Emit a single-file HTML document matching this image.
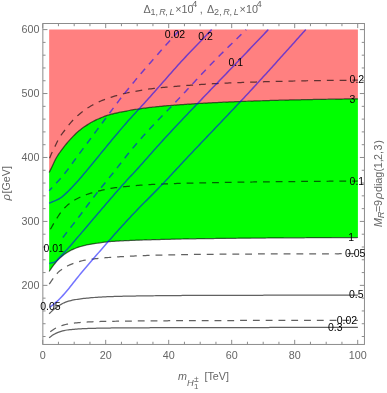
<!DOCTYPE html>
<html><head><meta charset="utf-8"><style>
html,body{margin:0;padding:0;background:#fff;}
svg{display:block;font-family:"Liberation Sans",sans-serif;will-change:transform;}
</style></head><body>
<svg width="387" height="393" viewBox="0 0 387 393">
<path d="M49.15,29.60 L357.90,29.60 L357.90,98.80 L356.43,98.82 L354.96,98.84 L353.49,98.86 L352.03,98.88 L350.56,98.90 L349.09,98.92 L347.62,98.94 L346.15,98.96 L344.68,98.98 L343.22,99.00 L341.75,99.02 L340.28,99.04 L338.81,99.06 L337.34,99.09 L335.87,99.11 L334.41,99.13 L332.94,99.15 L331.47,99.18 L330.00,99.20 L328.51,99.23 L327.02,99.25 L325.53,99.28 L324.04,99.30 L322.55,99.33 L321.06,99.35 L319.57,99.38 L318.08,99.41 L316.59,99.44 L315.11,99.46 L313.62,99.49 L312.13,99.52 L310.64,99.55 L309.15,99.58 L307.66,99.61 L306.17,99.64 L304.68,99.67 L303.19,99.70 L301.70,99.73 L300.21,99.76 L298.72,99.79 L297.23,99.82 L295.74,99.86 L294.25,99.89 L292.76,99.92 L291.27,99.96 L289.78,99.99 L288.29,100.02 L286.81,100.06 L285.32,100.10 L283.83,100.13 L282.34,100.17 L280.85,100.21 L279.36,100.24 L277.87,100.28 L276.38,100.32 L274.89,100.36 L273.40,100.40 L271.92,100.44 L270.45,100.48 L268.97,100.52 L267.49,100.57 L266.01,100.61 L264.54,100.65 L263.06,100.70 L261.58,100.75 L260.11,100.79 L258.63,100.84 L257.15,100.89 L255.67,100.94 L254.20,100.99 L252.72,101.04 L251.24,101.09 L249.77,101.15 L248.29,101.20 L246.81,101.25 L245.33,101.31 L243.86,101.37 L242.38,101.42 L240.90,101.48 L239.43,101.54 L237.95,101.60 L236.47,101.66 L234.99,101.72 L233.52,101.78 L232.04,101.84 L230.56,101.91 L229.09,101.97 L227.61,102.03 L226.13,102.10 L224.65,102.17 L223.18,102.23 L221.70,102.30 L220.22,102.37 L218.75,102.44 L217.27,102.51 L215.79,102.58 L214.31,102.66 L212.84,102.73 L211.36,102.81 L209.88,102.88 L208.41,102.96 L206.93,103.04 L205.45,103.12 L203.97,103.20 L202.50,103.29 L201.02,103.37 L199.54,103.46 L198.07,103.55 L196.59,103.64 L195.11,103.73 L193.63,103.82 L192.16,103.91 L190.68,104.01 L189.20,104.10 L187.73,104.20 L186.25,104.30 L184.77,104.40 L183.29,104.51 L181.82,104.61 L180.34,104.72 L178.86,104.82 L177.39,104.93 L175.91,105.04 L174.43,105.15 L172.95,105.27 L171.48,105.38 L170.00,105.50 L168.56,105.62 L167.11,105.74 L165.67,105.86 L164.22,105.99 L162.78,106.12 L161.33,106.26 L159.89,106.40 L158.44,106.54 L157.00,106.69 L155.56,106.84 L154.11,107.00 L152.67,107.16 L151.22,107.32 L149.78,107.49 L148.33,107.66 L146.89,107.84 L145.44,108.02 L144.00,108.20 L142.54,108.39 L141.08,108.59 L139.62,108.81 L138.15,109.02 L136.69,109.25 L135.23,109.49 L133.77,109.73 L132.31,109.98 L130.85,110.23 L129.38,110.49 L127.92,110.76 L126.46,111.03 L125.00,111.30 L123.50,111.58 L122.00,111.87 L120.50,112.17 L119.00,112.47 L117.50,112.78 L116.00,113.11 L114.50,113.45 L113.00,113.81 L111.50,114.20 L110.00,114.60 L108.60,115.01 L107.20,115.46 L105.80,115.94 L104.40,116.45 L103.00,116.98 L101.60,117.54 L100.20,118.11 L98.80,118.70 L97.44,119.29 L96.08,119.92 L94.72,120.58 L93.36,121.27 L92.00,122.00 L90.54,122.83 L89.08,123.71 L87.62,124.64 L86.16,125.61 L84.70,126.60 L83.28,127.59 L81.86,128.61 L80.44,129.68 L79.02,130.81 L77.60,132.00 L76.18,133.29 L74.76,134.69 L73.34,136.15 L71.92,137.67 L70.50,139.20 L69.15,140.68 L67.80,142.19 L66.45,143.77 L65.10,145.40 L63.77,147.08 L62.45,148.82 L61.12,150.63 L59.80,152.50 L58.60,154.22 L57.40,156.02 L56.20,158.00 L55.03,160.24 L53.87,162.71 L52.70,165.20 L51.52,167.66 L50.33,170.13 L49.15,172.60 Z" fill="#ff8080"/>
<path d="M49.15,172.60 L50.33,170.13 L51.52,167.66 L52.70,165.20 L53.87,162.71 L55.03,160.24 L56.20,158.00 L57.40,156.02 L58.60,154.22 L59.80,152.50 L61.12,150.63 L62.45,148.82 L63.77,147.08 L65.10,145.40 L66.45,143.77 L67.80,142.19 L69.15,140.68 L70.50,139.20 L71.92,137.67 L73.34,136.15 L74.76,134.69 L76.18,133.29 L77.60,132.00 L79.02,130.81 L80.44,129.68 L81.86,128.61 L83.28,127.59 L84.70,126.60 L86.16,125.61 L87.62,124.64 L89.08,123.71 L90.54,122.83 L92.00,122.00 L93.36,121.27 L94.72,120.58 L96.08,119.92 L97.44,119.29 L98.80,118.70 L100.20,118.11 L101.60,117.54 L103.00,116.98 L104.40,116.45 L105.80,115.94 L107.20,115.46 L108.60,115.01 L110.00,114.60 L111.50,114.20 L113.00,113.81 L114.50,113.45 L116.00,113.11 L117.50,112.78 L119.00,112.47 L120.50,112.17 L122.00,111.87 L123.50,111.58 L125.00,111.30 L126.46,111.03 L127.92,110.76 L129.38,110.49 L130.85,110.23 L132.31,109.98 L133.77,109.73 L135.23,109.49 L136.69,109.25 L138.15,109.02 L139.62,108.81 L141.08,108.59 L142.54,108.39 L144.00,108.20 L145.44,108.02 L146.89,107.84 L148.33,107.66 L149.78,107.49 L151.22,107.32 L152.67,107.16 L154.11,107.00 L155.56,106.84 L157.00,106.69 L158.44,106.54 L159.89,106.40 L161.33,106.26 L162.78,106.12 L164.22,105.99 L165.67,105.86 L167.11,105.74 L168.56,105.62 L170.00,105.50 L171.48,105.38 L172.95,105.27 L174.43,105.15 L175.91,105.04 L177.39,104.93 L178.86,104.82 L180.34,104.72 L181.82,104.61 L183.29,104.51 L184.77,104.40 L186.25,104.30 L187.73,104.20 L189.20,104.10 L190.68,104.01 L192.16,103.91 L193.63,103.82 L195.11,103.73 L196.59,103.64 L198.07,103.55 L199.54,103.46 L201.02,103.37 L202.50,103.29 L203.97,103.20 L205.45,103.12 L206.93,103.04 L208.41,102.96 L209.88,102.88 L211.36,102.81 L212.84,102.73 L214.31,102.66 L215.79,102.58 L217.27,102.51 L218.75,102.44 L220.22,102.37 L221.70,102.30 L223.18,102.23 L224.65,102.17 L226.13,102.10 L227.61,102.03 L229.09,101.97 L230.56,101.91 L232.04,101.84 L233.52,101.78 L234.99,101.72 L236.47,101.66 L237.95,101.60 L239.43,101.54 L240.90,101.48 L242.38,101.42 L243.86,101.37 L245.33,101.31 L246.81,101.25 L248.29,101.20 L249.77,101.15 L251.24,101.09 L252.72,101.04 L254.20,100.99 L255.67,100.94 L257.15,100.89 L258.63,100.84 L260.11,100.79 L261.58,100.75 L263.06,100.70 L264.54,100.65 L266.01,100.61 L267.49,100.57 L268.97,100.52 L270.45,100.48 L271.92,100.44 L273.40,100.40 L274.89,100.36 L276.38,100.32 L277.87,100.28 L279.36,100.24 L280.85,100.21 L282.34,100.17 L283.83,100.13 L285.32,100.10 L286.81,100.06 L288.29,100.02 L289.78,99.99 L291.27,99.96 L292.76,99.92 L294.25,99.89 L295.74,99.86 L297.23,99.82 L298.72,99.79 L300.21,99.76 L301.70,99.73 L303.19,99.70 L304.68,99.67 L306.17,99.64 L307.66,99.61 L309.15,99.58 L310.64,99.55 L312.13,99.52 L313.62,99.49 L315.11,99.46 L316.59,99.44 L318.08,99.41 L319.57,99.38 L321.06,99.35 L322.55,99.33 L324.04,99.30 L325.53,99.28 L327.02,99.25 L328.51,99.23 L330.00,99.20 L331.47,99.18 L332.94,99.15 L334.41,99.13 L335.87,99.11 L337.34,99.09 L338.81,99.06 L340.28,99.04 L341.75,99.02 L343.22,99.00 L344.68,98.98 L346.15,98.96 L347.62,98.94 L349.09,98.92 L350.56,98.90 L352.03,98.88 L353.49,98.86 L354.96,98.84 L356.43,98.82 L357.90,98.80 L357.90,237.50 L356.40,237.51 L354.90,237.52 L353.41,237.52 L351.91,237.53 L350.41,237.54 L348.91,237.54 L347.41,237.55 L345.92,237.56 L344.42,237.57 L342.92,237.57 L341.42,237.58 L339.92,237.59 L338.42,237.59 L336.93,237.60 L335.43,237.61 L333.93,237.61 L332.43,237.62 L330.93,237.63 L329.44,237.64 L327.94,237.64 L326.44,237.65 L324.94,237.66 L323.44,237.66 L321.95,237.67 L320.45,237.68 L318.95,237.68 L317.45,237.69 L315.95,237.70 L314.46,237.71 L312.96,237.71 L311.46,237.72 L309.96,237.73 L308.46,237.74 L306.97,237.74 L305.47,237.75 L303.97,237.76 L302.47,237.77 L300.97,237.77 L299.48,237.78 L297.98,237.79 L296.48,237.80 L294.98,237.81 L293.48,237.82 L291.98,237.82 L290.49,237.83 L288.99,237.84 L287.49,237.85 L285.99,237.86 L284.49,237.87 L283.00,237.88 L281.50,237.89 L280.00,237.90 L278.52,237.91 L277.04,237.92 L275.56,237.93 L274.07,237.94 L272.59,237.95 L271.11,237.96 L269.63,237.97 L268.15,237.98 L266.67,238.00 L265.19,238.01 L263.70,238.02 L262.22,238.03 L260.74,238.04 L259.26,238.05 L257.78,238.07 L256.30,238.08 L254.81,238.09 L253.33,238.10 L251.85,238.12 L250.37,238.13 L248.89,238.14 L247.41,238.16 L245.93,238.17 L244.44,238.18 L242.96,238.20 L241.48,238.21 L240.00,238.23 L238.52,238.24 L237.04,238.25 L235.56,238.27 L234.07,238.28 L232.59,238.30 L231.11,238.32 L229.63,238.33 L228.15,238.35 L226.67,238.36 L225.19,238.38 L223.70,238.40 L222.22,238.41 L220.74,238.43 L219.26,238.45 L217.78,238.47 L216.30,238.48 L214.81,238.50 L213.33,238.52 L211.85,238.54 L210.37,238.56 L208.89,238.58 L207.41,238.60 L205.93,238.62 L204.44,238.64 L202.96,238.66 L201.48,238.68 L200.00,238.70 L198.51,238.72 L197.02,238.74 L195.52,238.77 L194.03,238.79 L192.54,238.81 L191.05,238.84 L189.56,238.86 L188.06,238.89 L186.57,238.92 L185.08,238.95 L183.59,238.97 L182.09,239.00 L180.60,239.03 L179.11,239.06 L177.62,239.09 L176.13,239.12 L174.63,239.16 L173.14,239.19 L171.65,239.22 L170.16,239.26 L168.67,239.29 L167.17,239.33 L165.68,239.37 L164.19,239.40 L162.70,239.44 L161.21,239.48 L159.71,239.52 L158.22,239.56 L156.73,239.60 L155.24,239.64 L153.74,239.68 L152.25,239.73 L150.76,239.77 L149.27,239.81 L147.78,239.86 L146.28,239.91 L144.79,239.95 L143.30,240.00 L141.85,240.05 L140.40,240.09 L138.96,240.14 L137.51,240.19 L136.06,240.24 L134.61,240.30 L133.17,240.35 L131.72,240.41 L130.27,240.47 L128.82,240.53 L127.37,240.59 L125.93,240.66 L124.48,240.72 L123.03,240.80 L121.58,240.87 L120.13,240.95 L118.69,241.03 L117.24,241.11 L115.79,241.20 L114.34,241.30 L112.90,241.39 L111.45,241.49 L110.00,241.60 L108.56,241.72 L107.13,241.86 L105.69,242.02 L104.25,242.20 L102.82,242.39 L101.38,242.60 L99.95,242.81 L98.51,243.03 L97.07,243.25 L95.64,243.48 L94.20,243.70 L92.70,243.93 L91.20,244.17 L89.70,244.42 L88.20,244.69 L86.70,244.98 L85.20,245.30 L83.70,245.65 L82.20,246.05 L80.70,246.48 L79.20,246.95 L77.70,247.46 L76.20,248.00 L74.90,248.51 L73.60,249.06 L72.30,249.66 L71.00,250.30 L69.70,250.99 L68.40,251.72 L67.10,252.50 L65.60,253.47 L64.10,254.55 L62.60,255.73 L61.10,257.00 L59.60,258.36 L58.10,259.80 L56.60,261.43 L55.10,263.26 L53.60,265.20 L52.12,267.22 L50.63,269.36 L49.15,271.50 Z" fill="#00ff00"/>
<path d="M49.15,172.60 L50.33,170.13 L51.52,167.66 L52.70,165.20 L53.87,162.71 L55.03,160.24 L56.20,158.00 L57.40,156.02 L58.60,154.22 L59.80,152.50 L61.12,150.63 L62.45,148.82 L63.77,147.08 L65.10,145.40 L66.45,143.77 L67.80,142.19 L69.15,140.68 L70.50,139.20 L71.92,137.67 L73.34,136.15 L74.76,134.69 L76.18,133.29 L77.60,132.00 L79.02,130.81 L80.44,129.68 L81.86,128.61 L83.28,127.59 L84.70,126.60 L86.16,125.61 L87.62,124.64 L89.08,123.71 L90.54,122.83 L92.00,122.00 L93.36,121.27 L94.72,120.58 L96.08,119.92 L97.44,119.29 L98.80,118.70 L100.20,118.11 L101.60,117.54 L103.00,116.98 L104.40,116.45 L105.80,115.94 L107.20,115.46 L108.60,115.01 L110.00,114.60 L111.50,114.20 L113.00,113.81 L114.50,113.45 L116.00,113.11 L117.50,112.78 L119.00,112.47 L120.50,112.17 L122.00,111.87 L123.50,111.58 L125.00,111.30 L126.46,111.03 L127.92,110.76 L129.38,110.49 L130.85,110.23 L132.31,109.98 L133.77,109.73 L135.23,109.49 L136.69,109.25 L138.15,109.02 L139.62,108.81 L141.08,108.59 L142.54,108.39 L144.00,108.20 L145.44,108.02 L146.89,107.84 L148.33,107.66 L149.78,107.49 L151.22,107.32 L152.67,107.16 L154.11,107.00 L155.56,106.84 L157.00,106.69 L158.44,106.54 L159.89,106.40 L161.33,106.26 L162.78,106.12 L164.22,105.99 L165.67,105.86 L167.11,105.74 L168.56,105.62 L170.00,105.50 L171.48,105.38 L172.95,105.27 L174.43,105.15 L175.91,105.04 L177.39,104.93 L178.86,104.82 L180.34,104.72 L181.82,104.61 L183.29,104.51 L184.77,104.40 L186.25,104.30 L187.73,104.20 L189.20,104.10 L190.68,104.01 L192.16,103.91 L193.63,103.82 L195.11,103.73 L196.59,103.64 L198.07,103.55 L199.54,103.46 L201.02,103.37 L202.50,103.29 L203.97,103.20 L205.45,103.12 L206.93,103.04 L208.41,102.96 L209.88,102.88 L211.36,102.81 L212.84,102.73 L214.31,102.66 L215.79,102.58 L217.27,102.51 L218.75,102.44 L220.22,102.37 L221.70,102.30 L223.18,102.23 L224.65,102.17 L226.13,102.10 L227.61,102.03 L229.09,101.97 L230.56,101.91 L232.04,101.84 L233.52,101.78 L234.99,101.72 L236.47,101.66 L237.95,101.60 L239.43,101.54 L240.90,101.48 L242.38,101.42 L243.86,101.37 L245.33,101.31 L246.81,101.25 L248.29,101.20 L249.77,101.15 L251.24,101.09 L252.72,101.04 L254.20,100.99 L255.67,100.94 L257.15,100.89 L258.63,100.84 L260.11,100.79 L261.58,100.75 L263.06,100.70 L264.54,100.65 L266.01,100.61 L267.49,100.57 L268.97,100.52 L270.45,100.48 L271.92,100.44 L273.40,100.40 L274.89,100.36 L276.38,100.32 L277.87,100.28 L279.36,100.24 L280.85,100.21 L282.34,100.17 L283.83,100.13 L285.32,100.10 L286.81,100.06 L288.29,100.02 L289.78,99.99 L291.27,99.96 L292.76,99.92 L294.25,99.89 L295.74,99.86 L297.23,99.82 L298.72,99.79 L300.21,99.76 L301.70,99.73 L303.19,99.70 L304.68,99.67 L306.17,99.64 L307.66,99.61 L309.15,99.58 L310.64,99.55 L312.13,99.52 L313.62,99.49 L315.11,99.46 L316.59,99.44 L318.08,99.41 L319.57,99.38 L321.06,99.35 L322.55,99.33 L324.04,99.30 L325.53,99.28 L327.02,99.25 L328.51,99.23 L330.00,99.20 L331.47,99.18 L332.94,99.15 L334.41,99.13 L335.87,99.11 L337.34,99.09 L338.81,99.06 L340.28,99.04 L341.75,99.02 L343.22,99.00 L344.68,98.98 L346.15,98.96 L347.62,98.94 L349.09,98.92 L350.56,98.90 L352.03,98.88 L353.49,98.86 L354.96,98.84 L356.43,98.82 L357.90,98.80" fill="none" stroke="#000" stroke-opacity="0.62" stroke-width="1.25" />
<path d="M49.15,271.50 L50.63,269.36 L52.12,267.22 L53.60,265.20 L55.10,263.26 L56.60,261.43 L58.10,259.80 L59.60,258.36 L61.10,257.00 L62.60,255.73 L64.10,254.55 L65.60,253.47 L67.10,252.50 L68.40,251.72 L69.70,250.99 L71.00,250.30 L72.30,249.66 L73.60,249.06 L74.90,248.51 L76.20,248.00 L77.70,247.46 L79.20,246.95 L80.70,246.48 L82.20,246.05 L83.70,245.65 L85.20,245.30 L86.70,244.98 L88.20,244.69 L89.70,244.42 L91.20,244.17 L92.70,243.93 L94.20,243.70 L95.64,243.48 L97.07,243.25 L98.51,243.03 L99.95,242.81 L101.38,242.60 L102.82,242.39 L104.25,242.20 L105.69,242.02 L107.13,241.86 L108.56,241.72 L110.00,241.60 L111.45,241.49 L112.90,241.39 L114.34,241.30 L115.79,241.20 L117.24,241.11 L118.69,241.03 L120.13,240.95 L121.58,240.87 L123.03,240.80 L124.48,240.72 L125.93,240.66 L127.37,240.59 L128.82,240.53 L130.27,240.47 L131.72,240.41 L133.17,240.35 L134.61,240.30 L136.06,240.24 L137.51,240.19 L138.96,240.14 L140.40,240.09 L141.85,240.05 L143.30,240.00 L144.79,239.95 L146.28,239.91 L147.78,239.86 L149.27,239.81 L150.76,239.77 L152.25,239.73 L153.74,239.68 L155.24,239.64 L156.73,239.60 L158.22,239.56 L159.71,239.52 L161.21,239.48 L162.70,239.44 L164.19,239.40 L165.68,239.37 L167.17,239.33 L168.67,239.29 L170.16,239.26 L171.65,239.22 L173.14,239.19 L174.63,239.16 L176.13,239.12 L177.62,239.09 L179.11,239.06 L180.60,239.03 L182.09,239.00 L183.59,238.97 L185.08,238.95 L186.57,238.92 L188.06,238.89 L189.56,238.86 L191.05,238.84 L192.54,238.81 L194.03,238.79 L195.52,238.77 L197.02,238.74 L198.51,238.72 L200.00,238.70 L201.48,238.68 L202.96,238.66 L204.44,238.64 L205.93,238.62 L207.41,238.60 L208.89,238.58 L210.37,238.56 L211.85,238.54 L213.33,238.52 L214.81,238.50 L216.30,238.48 L217.78,238.47 L219.26,238.45 L220.74,238.43 L222.22,238.41 L223.70,238.40 L225.19,238.38 L226.67,238.36 L228.15,238.35 L229.63,238.33 L231.11,238.32 L232.59,238.30 L234.07,238.28 L235.56,238.27 L237.04,238.25 L238.52,238.24 L240.00,238.23 L241.48,238.21 L242.96,238.20 L244.44,238.18 L245.93,238.17 L247.41,238.16 L248.89,238.14 L250.37,238.13 L251.85,238.12 L253.33,238.10 L254.81,238.09 L256.30,238.08 L257.78,238.07 L259.26,238.05 L260.74,238.04 L262.22,238.03 L263.70,238.02 L265.19,238.01 L266.67,238.00 L268.15,237.98 L269.63,237.97 L271.11,237.96 L272.59,237.95 L274.07,237.94 L275.56,237.93 L277.04,237.92 L278.52,237.91 L280.00,237.90 L281.50,237.89 L283.00,237.88 L284.49,237.87 L285.99,237.86 L287.49,237.85 L288.99,237.84 L290.49,237.83 L291.98,237.82 L293.48,237.82 L294.98,237.81 L296.48,237.80 L297.98,237.79 L299.48,237.78 L300.97,237.77 L302.47,237.77 L303.97,237.76 L305.47,237.75 L306.97,237.74 L308.46,237.74 L309.96,237.73 L311.46,237.72 L312.96,237.71 L314.46,237.71 L315.95,237.70 L317.45,237.69 L318.95,237.68 L320.45,237.68 L321.95,237.67 L323.44,237.66 L324.94,237.66 L326.44,237.65 L327.94,237.64 L329.44,237.64 L330.93,237.63 L332.43,237.62 L333.93,237.61 L335.43,237.61 L336.93,237.60 L338.42,237.59 L339.92,237.59 L341.42,237.58 L342.92,237.57 L344.42,237.57 L345.92,237.56 L347.41,237.55 L348.91,237.54 L350.41,237.54 L351.91,237.53 L353.41,237.52 L354.90,237.52 L356.40,237.51 L357.90,237.50" fill="none" stroke="#000" stroke-opacity="0.62" stroke-width="1.25" />
<path d="M49.15,313.80 L50.60,312.36 L52.05,310.92 L53.50,309.60 L54.65,308.66 L55.80,307.77 L56.95,306.95 L58.10,306.20 L59.60,305.28 L61.10,304.40 L62.60,303.56 L64.10,302.81 L65.60,302.14 L67.10,301.60 L68.40,301.20 L69.70,300.84 L71.00,300.52 L72.30,300.22 L73.60,299.95 L74.90,299.71 L76.20,299.50 L77.70,299.27 L79.20,299.06 L80.70,298.86 L82.20,298.67 L83.70,298.49 L85.20,298.32 L86.70,298.16 L88.20,298.01 L89.70,297.87 L91.20,297.74 L92.70,297.62 L94.20,297.50 L95.64,297.39 L97.07,297.29 L98.51,297.19 L99.95,297.10 L101.38,297.01 L102.82,296.92 L104.25,296.85 L105.69,296.77 L107.13,296.71 L108.56,296.65 L110.00,296.60 L111.48,296.55 L112.96,296.51 L114.44,296.47 L115.93,296.42 L117.41,296.38 L118.89,296.35 L120.37,296.31 L121.85,296.27 L123.33,296.24 L124.81,296.21 L126.30,296.17 L127.78,296.14 L129.26,296.11 L130.74,296.08 L132.22,296.06 L133.70,296.03 L135.19,296.01 L136.67,295.98 L138.15,295.96 L139.63,295.94 L141.11,295.91 L142.59,295.89 L144.07,295.87 L145.56,295.85 L147.04,295.84 L148.52,295.82 L150.00,295.80 L151.47,295.78 L152.94,295.77 L154.41,295.75 L155.88,295.73 L157.35,295.72 L158.82,295.70 L160.29,295.69 L161.76,295.67 L163.24,295.66 L164.71,295.64 L166.18,295.63 L167.65,295.61 L169.12,295.60 L170.59,295.59 L172.06,295.57 L173.53,295.56 L175.00,295.55 L176.47,295.54 L177.94,295.53 L179.41,295.51 L180.88,295.50 L182.35,295.49 L183.82,295.48 L185.29,295.47 L186.76,295.46 L188.24,295.46 L189.71,295.45 L191.18,295.44 L192.65,295.43 L194.12,295.42 L195.59,295.42 L197.06,295.41 L198.53,295.41 L200.00,295.40 L201.49,295.39 L202.98,295.39 L204.47,295.39 L205.96,295.38 L207.45,295.38 L208.94,295.37 L210.43,295.37 L211.92,295.36 L213.41,295.36 L214.90,295.35 L216.39,295.35 L217.88,295.34 L219.37,295.34 L220.85,295.34 L222.34,295.33 L223.83,295.33 L225.32,295.32 L226.81,295.32 L228.30,295.32 L229.79,295.31 L231.28,295.31 L232.77,295.31 L234.26,295.30 L235.75,295.30 L237.24,295.30 L238.73,295.29 L240.22,295.29 L241.71,295.29 L243.20,295.28 L244.69,295.28 L246.18,295.28 L247.67,295.27 L249.16,295.27 L250.65,295.27 L252.14,295.26 L253.63,295.26 L255.12,295.26 L256.61,295.26 L258.10,295.25 L259.58,295.25 L261.07,295.25 L262.56,295.25 L264.05,295.24 L265.54,295.24 L267.03,295.24 L268.52,295.24 L270.01,295.23 L271.50,295.23 L272.99,295.23 L274.48,295.23 L275.97,295.22 L277.46,295.22 L278.95,295.22 L280.44,295.22 L281.93,295.22 L283.42,295.21 L284.91,295.21 L286.40,295.21 L287.89,295.21 L289.38,295.20 L290.87,295.20 L292.36,295.20 L293.85,295.20 L295.34,295.20 L296.83,295.19 L298.32,295.19 L299.80,295.19 L301.29,295.19 L302.78,295.19 L304.27,295.18 L305.76,295.18 L307.25,295.18 L308.74,295.18 L310.23,295.18 L311.72,295.17 L313.21,295.17 L314.70,295.17 L316.19,295.17 L317.68,295.16 L319.17,295.16 L320.66,295.16 L322.15,295.16 L323.64,295.16 L325.13,295.15 L326.62,295.15 L328.11,295.15 L329.60,295.15 L331.09,295.15 L332.58,295.14 L334.07,295.14 L335.56,295.14 L337.05,295.14 L338.53,295.13 L340.02,295.13 L341.51,295.13 L343.00,295.13 L344.49,295.12 L345.98,295.12 L347.47,295.12 L348.96,295.12 L350.45,295.11 L351.94,295.11 L353.43,295.11 L354.92,295.11 L356.41,295.10 L357.90,295.10" fill="none" stroke="#000" stroke-opacity="0.62" stroke-width="1.25" />
<path d="M49.15,337.80 L50.60,336.68 L52.05,335.57 L53.50,334.60 L54.65,333.96 L55.80,333.37 L56.95,332.85 L58.10,332.40 L59.60,331.88 L61.10,331.39 L62.60,330.95 L64.10,330.56 L65.60,330.24 L67.10,330.00 L68.49,329.83 L69.88,329.67 L71.28,329.52 L72.67,329.39 L74.06,329.26 L75.45,329.15 L76.85,329.05 L78.24,328.95 L79.63,328.87 L81.02,328.79 L82.42,328.72 L83.81,328.66 L85.20,328.60 L86.66,328.55 L88.12,328.49 L89.58,328.44 L91.04,328.40 L92.49,328.35 L93.95,328.31 L95.41,328.27 L96.87,328.23 L98.33,328.19 L99.79,328.16 L101.25,328.13 L102.71,328.10 L104.16,328.07 L105.62,328.05 L107.08,328.03 L108.54,328.01 L110.00,328.00 L111.50,327.99 L113.00,327.97 L114.50,327.96 L116.00,327.95 L117.50,327.94 L119.00,327.93 L120.50,327.92 L122.00,327.91 L123.50,327.90 L125.00,327.88 L126.50,327.87 L128.00,327.86 L129.50,327.86 L131.00,327.85 L132.50,327.84 L134.00,327.83 L135.50,327.82 L137.00,327.81 L138.50,327.80 L140.00,327.79 L141.50,327.79 L143.00,327.78 L144.50,327.77 L146.00,327.77 L147.50,327.76 L149.00,327.75 L150.50,327.74 L152.00,327.74 L153.50,327.73 L155.00,327.73 L156.50,327.72 L158.00,327.71 L159.50,327.71 L161.00,327.70 L162.50,327.70 L164.00,327.69 L165.50,327.69 L167.00,327.68 L168.50,327.68 L170.00,327.67 L171.50,327.67 L173.00,327.66 L174.50,327.66 L176.00,327.66 L177.50,327.65 L179.00,327.65 L180.50,327.64 L182.00,327.64 L183.50,327.64 L185.00,327.63 L186.50,327.63 L188.00,327.63 L189.50,327.62 L191.00,327.62 L192.50,327.62 L194.00,327.61 L195.50,327.61 L197.00,327.61 L198.50,327.60 L200.00,327.60 L201.49,327.60 L202.98,327.59 L204.47,327.59 L205.96,327.59 L207.45,327.59 L208.94,327.58 L210.43,327.58 L211.92,327.58 L213.41,327.57 L214.90,327.57 L216.39,327.57 L217.88,327.57 L219.37,327.56 L220.85,327.56 L222.34,327.56 L223.83,327.56 L225.32,327.55 L226.81,327.55 L228.30,327.55 L229.79,327.55 L231.28,327.54 L232.77,327.54 L234.26,327.54 L235.75,327.54 L237.24,327.54 L238.73,327.53 L240.22,327.53 L241.71,327.53 L243.20,327.53 L244.69,327.52 L246.18,327.52 L247.67,327.52 L249.16,327.52 L250.65,327.52 L252.14,327.52 L253.63,327.51 L255.12,327.51 L256.61,327.51 L258.10,327.51 L259.58,327.51 L261.07,327.50 L262.56,327.50 L264.05,327.50 L265.54,327.50 L267.03,327.50 L268.52,327.50 L270.01,327.49 L271.50,327.49 L272.99,327.49 L274.48,327.49 L275.97,327.49 L277.46,327.49 L278.95,327.48 L280.44,327.48 L281.93,327.48 L283.42,327.48 L284.91,327.48 L286.40,327.48 L287.89,327.47 L289.38,327.47 L290.87,327.47 L292.36,327.47 L293.85,327.47 L295.34,327.47 L296.83,327.47 L298.32,327.46 L299.80,327.46 L301.29,327.46 L302.78,327.46 L304.27,327.46 L305.76,327.46 L307.25,327.46 L308.74,327.45 L310.23,327.45 L311.72,327.45 L313.21,327.45 L314.70,327.45 L316.19,327.45 L317.68,327.44 L319.17,327.44 L320.66,327.44 L322.15,327.44 L323.64,327.44 L325.13,327.44 L326.62,327.44 L328.11,327.43 L329.60,327.43 L331.09,327.43 L332.58,327.43 L334.07,327.43 L335.56,327.43 L337.05,327.42 L338.53,327.42 L340.02,327.42 L341.51,327.42 L343.00,327.42 L344.49,327.42 L345.98,327.41 L347.47,327.41 L348.96,327.41 L350.45,327.41 L351.94,327.41 L353.43,327.41 L354.92,327.40 L356.41,327.40 L357.90,327.40" fill="none" stroke="#000" stroke-opacity="0.62" stroke-width="1.25" />
<path d="M49.15,159.40 L50.22,156.70 L51.30,154.10 L52.37,151.78 L53.43,149.59 L54.50,147.40 L55.80,144.67 L57.10,142.00 L58.45,139.32 L59.80,136.90 L61.27,134.76 L62.73,132.87 L64.20,131.00 L65.40,129.41 L66.60,127.84 L67.80,126.30 L69.27,124.46 L70.73,122.68 L72.20,121.00 L73.70,119.41 L75.20,117.92 L76.70,116.50 L77.88,115.44 L79.05,114.42 L80.23,113.44 L81.40,112.50 L82.70,111.49 L84.00,110.50 L85.30,109.55 L86.60,108.64 L87.90,107.80 L89.33,106.92 L90.77,106.08 L92.20,105.26 L93.63,104.47 L95.07,103.71 L96.50,102.98 L97.93,102.29 L99.37,101.63 L100.80,101.00 L102.24,100.40 L103.69,99.83 L105.13,99.28 L106.58,98.76 L108.02,98.25 L109.47,97.77 L110.91,97.30 L112.36,96.84 L113.80,96.40 L115.23,95.97 L116.67,95.56 L118.10,95.15 L119.53,94.76 L120.97,94.38 L122.40,94.01 L123.83,93.66 L125.27,93.32 L126.70,93.00 L128.13,92.69 L129.57,92.40 L131.00,92.12 L132.43,91.85 L133.87,91.59 L135.30,91.34 L136.73,91.09 L138.17,90.84 L139.60,90.60 L141.03,90.36 L142.47,90.11 L143.90,89.88 L145.33,89.64 L146.77,89.41 L148.20,89.19 L149.63,88.98 L151.07,88.78 L152.50,88.60 L154.00,88.42 L155.50,88.25 L157.00,88.08 L158.50,87.91 L160.00,87.76 L161.50,87.60 L163.00,87.46 L164.50,87.31 L166.00,87.17 L167.50,87.04 L169.00,86.90 L170.50,86.77 L172.00,86.65 L173.50,86.52 L175.00,86.40 L176.46,86.28 L177.92,86.17 L179.38,86.05 L180.84,85.93 L182.30,85.82 L183.76,85.71 L185.22,85.60 L186.68,85.48 L188.13,85.38 L189.59,85.27 L191.05,85.16 L192.51,85.05 L193.97,84.95 L195.43,84.85 L196.89,84.75 L198.35,84.65 L199.81,84.55 L201.27,84.45 L202.73,84.36 L204.19,84.26 L205.65,84.17 L207.11,84.08 L208.57,83.99 L210.02,83.91 L211.48,83.83 L212.94,83.74 L214.40,83.66 L215.86,83.59 L217.32,83.51 L218.78,83.44 L220.24,83.37 L221.70,83.30 L223.18,83.23 L224.65,83.17 L226.13,83.10 L227.61,83.04 L229.09,82.98 L230.56,82.91 L232.04,82.85 L233.52,82.79 L234.99,82.73 L236.47,82.68 L237.95,82.62 L239.43,82.56 L240.90,82.51 L242.38,82.46 L243.86,82.40 L245.33,82.35 L246.81,82.30 L248.29,82.25 L249.77,82.20 L251.24,82.15 L252.72,82.10 L254.20,82.06 L255.67,82.01 L257.15,81.96 L258.63,81.92 L260.11,81.87 L261.58,81.83 L263.06,81.79 L264.54,81.74 L266.01,81.70 L267.49,81.66 L268.97,81.62 L270.45,81.58 L271.92,81.54 L273.40,81.50 L274.86,81.46 L276.33,81.42 L277.79,81.38 L279.26,81.35 L280.72,81.31 L282.18,81.27 L283.65,81.24 L285.11,81.20 L286.58,81.17 L288.04,81.13 L289.50,81.10 L290.97,81.06 L292.43,81.03 L293.90,81.00 L295.36,80.97 L296.82,80.94 L298.29,80.91 L299.75,80.88 L301.22,80.85 L302.68,80.82 L304.14,80.80 L305.61,80.77 L307.07,80.75 L308.54,80.72 L310.00,80.70 L311.49,80.68 L312.98,80.66 L314.46,80.64 L315.95,80.62 L317.44,80.60 L318.93,80.58 L320.41,80.56 L321.90,80.54 L323.39,80.53 L324.88,80.51 L326.36,80.49 L327.85,80.48 L329.34,80.46 L330.82,80.44 L332.31,80.43 L333.80,80.41 L335.29,80.40 L336.77,80.38 L338.26,80.37 L339.75,80.36 L341.24,80.34 L342.72,80.33 L344.21,80.31 L345.70,80.30 L347.06,80.29 L348.41,80.28 L349.77,80.26 L351.12,80.25 L352.48,80.24 L353.83,80.23 L355.19,80.22 L356.54,80.21 L357.90,80.20" fill="none" stroke="#000" stroke-opacity="0.62" stroke-width="1.25" stroke-dasharray="6.85 5.94" stroke-dashoffset="-1.2"/>
<path d="M49.15,231.60 L50.30,229.51 L51.45,227.43 L52.60,225.40 L53.95,223.08 L55.30,220.79 L56.65,218.59 L58.00,216.50 L59.40,214.41 L60.80,212.39 L62.20,210.52 L63.60,208.90 L65.03,207.45 L66.46,206.11 L67.89,204.85 L69.31,203.69 L70.74,202.61 L72.17,201.62 L73.60,200.70 L75.06,199.83 L76.52,199.00 L77.99,198.22 L79.45,197.49 L80.91,196.81 L82.38,196.17 L83.84,195.56 L85.30,195.00 L86.66,194.51 L88.03,194.05 L89.39,193.61 L90.75,193.20 L92.11,192.80 L93.47,192.42 L94.84,192.06 L96.20,191.70 L97.67,191.32 L99.15,190.94 L100.62,190.57 L102.09,190.20 L103.56,189.85 L105.04,189.51 L106.51,189.18 L107.98,188.88 L109.45,188.59 L110.93,188.33 L112.40,188.10 L113.88,187.89 L115.36,187.69 L116.85,187.51 L118.33,187.34 L119.81,187.18 L121.29,187.02 L122.77,186.87 L124.25,186.73 L125.74,186.59 L127.22,186.44 L128.70,186.30 L130.15,186.16 L131.59,186.01 L133.04,185.87 L134.48,185.73 L135.93,185.59 L137.37,185.46 L138.82,185.33 L140.26,185.21 L141.71,185.10 L143.15,184.99 L144.60,184.90 L146.07,184.81 L147.55,184.73 L149.03,184.65 L150.50,184.57 L151.97,184.49 L153.45,184.41 L154.92,184.34 L156.40,184.27 L157.88,184.20 L159.35,184.13 L160.82,184.07 L162.30,184.01 L163.78,183.95 L165.25,183.89 L166.72,183.83 L168.20,183.78 L169.68,183.72 L171.15,183.67 L172.62,183.62 L174.10,183.57 L175.57,183.53 L177.05,183.48 L178.53,183.44 L180.00,183.40 L181.48,183.36 L182.96,183.32 L184.44,183.28 L185.93,183.24 L187.41,183.20 L188.89,183.17 L190.37,183.13 L191.85,183.09 L193.33,183.06 L194.81,183.02 L196.30,182.99 L197.78,182.95 L199.26,182.92 L200.74,182.89 L202.22,182.86 L203.70,182.82 L205.19,182.79 L206.67,182.76 L208.15,182.73 L209.63,182.70 L211.11,182.67 L212.59,182.64 L214.07,182.61 L215.56,182.58 L217.04,182.56 L218.52,182.53 L220.00,182.50 L221.48,182.47 L222.96,182.45 L224.44,182.42 L225.93,182.40 L227.41,182.37 L228.89,182.35 L230.37,182.32 L231.85,182.30 L233.33,182.27 L234.81,182.25 L236.30,182.23 L237.78,182.21 L239.26,182.18 L240.74,182.16 L242.22,182.14 L243.70,182.12 L245.19,182.10 L246.67,182.08 L248.15,182.06 L249.63,182.04 L251.11,182.02 L252.59,182.00 L254.07,181.98 L255.56,181.96 L257.04,181.94 L258.52,181.92 L260.00,181.90 L261.48,181.88 L262.97,181.86 L264.45,181.85 L265.93,181.83 L267.42,181.81 L268.90,181.79 L270.38,181.78 L271.87,181.76 L273.35,181.74 L274.83,181.73 L276.32,181.71 L277.80,181.70 L279.28,181.68 L280.77,181.67 L282.25,181.65 L283.73,181.64 L285.22,181.62 L286.70,181.61 L288.18,181.59 L289.67,181.58 L291.15,181.57 L292.63,181.55 L294.12,181.54 L295.60,181.53 L297.08,181.51 L298.57,181.50 L300.05,181.49 L301.53,181.47 L303.02,181.46 L304.50,181.45 L305.98,181.43 L307.47,181.42 L308.95,181.41 L310.43,181.40 L311.92,181.39 L313.40,181.37 L314.88,181.36 L316.37,181.35 L317.85,181.34 L319.33,181.32 L320.82,181.31 L322.30,181.30 L323.78,181.29 L325.27,181.28 L326.75,181.26 L328.23,181.25 L329.72,181.24 L331.20,181.23 L332.68,181.22 L334.17,181.20 L335.65,181.19 L337.13,181.18 L338.62,181.17 L340.10,181.15 L341.58,181.14 L343.07,181.13 L344.55,181.12 L346.03,181.10 L347.52,181.09 L349.00,181.08 L350.48,181.07 L351.97,181.05 L353.45,181.04 L354.93,181.03 L356.42,181.01 L357.90,181.00" fill="none" stroke="#000" stroke-opacity="0.62" stroke-width="1.25" stroke-dasharray="6.83 5.90" stroke-dashoffset="-2.6"/>
<path d="M49.15,284.20 L50.63,282.07 L52.12,279.93 L53.60,277.90 L55.10,275.91 L56.60,274.00 L58.10,272.40 L59.60,271.08 L61.10,269.88 L62.60,268.79 L64.10,267.80 L65.60,266.90 L67.10,266.10 L68.40,265.47 L69.70,264.88 L71.00,264.34 L72.30,263.84 L73.60,263.37 L74.90,262.92 L76.20,262.50 L77.70,262.03 L79.20,261.57 L80.70,261.14 L82.20,260.75 L83.70,260.40 L85.20,260.10 L86.70,259.85 L88.20,259.63 L89.70,259.43 L91.20,259.24 L92.70,259.07 L94.20,258.90 L95.64,258.74 L97.07,258.58 L98.51,258.43 L99.95,258.28 L101.38,258.13 L102.82,257.99 L104.25,257.86 L105.69,257.73 L107.13,257.61 L108.56,257.50 L110.00,257.40 L111.48,257.30 L112.96,257.20 L114.44,257.10 L115.93,257.01 L117.41,256.91 L118.89,256.82 L120.37,256.73 L121.85,256.65 L123.33,256.56 L124.81,256.48 L126.30,256.40 L127.78,256.32 L129.26,256.24 L130.74,256.17 L132.22,256.09 L133.70,256.02 L135.19,255.95 L136.67,255.89 L138.15,255.82 L139.63,255.76 L141.11,255.70 L142.59,255.65 L144.07,255.59 L145.56,255.54 L147.04,255.49 L148.52,255.44 L150.00,255.40 L151.47,255.36 L152.94,255.32 L154.41,255.28 L155.88,255.23 L157.35,255.20 L158.82,255.16 L160.29,255.12 L161.76,255.08 L163.24,255.04 L164.71,255.01 L166.18,254.97 L167.65,254.94 L169.12,254.91 L170.59,254.87 L172.06,254.84 L173.53,254.81 L175.00,254.78 L176.47,254.75 L177.94,254.72 L179.41,254.69 L180.88,254.67 L182.35,254.64 L183.82,254.62 L185.29,254.59 L186.76,254.57 L188.24,254.55 L189.71,254.53 L191.18,254.50 L192.65,254.48 L194.12,254.47 L195.59,254.45 L197.06,254.43 L198.53,254.42 L200.00,254.40 L201.48,254.39 L202.96,254.37 L204.44,254.36 L205.93,254.34 L207.41,254.33 L208.89,254.32 L210.37,254.30 L211.85,254.29 L213.33,254.28 L214.81,254.27 L216.30,254.25 L217.78,254.24 L219.26,254.23 L220.74,254.22 L222.22,254.21 L223.70,254.20 L225.19,254.18 L226.67,254.17 L228.15,254.16 L229.63,254.15 L231.11,254.14 L232.59,254.13 L234.07,254.12 L235.56,254.11 L237.04,254.11 L238.52,254.10 L240.00,254.09 L241.48,254.08 L242.96,254.07 L244.44,254.06 L245.93,254.05 L247.41,254.04 L248.89,254.04 L250.37,254.03 L251.85,254.02 L253.33,254.01 L254.81,254.01 L256.30,254.00 L257.78,253.99 L259.26,253.99 L260.74,253.98 L262.22,253.97 L263.70,253.97 L265.19,253.96 L266.67,253.95 L268.15,253.95 L269.63,253.94 L271.11,253.93 L272.59,253.93 L274.07,253.92 L275.56,253.92 L277.04,253.91 L278.52,253.91 L280.00,253.90 L281.50,253.89 L283.00,253.89 L284.49,253.88 L285.99,253.88 L287.49,253.87 L288.99,253.87 L290.49,253.86 L291.98,253.86 L293.48,253.86 L294.98,253.85 L296.48,253.85 L297.98,253.84 L299.48,253.84 L300.97,253.83 L302.47,253.83 L303.97,253.83 L305.47,253.82 L306.97,253.82 L308.46,253.81 L309.96,253.81 L311.46,253.81 L312.96,253.80 L314.46,253.80 L315.95,253.80 L317.45,253.79 L318.95,253.79 L320.45,253.79 L321.95,253.78 L323.44,253.78 L324.94,253.78 L326.44,253.77 L327.94,253.77 L329.44,253.77 L330.93,253.76 L332.43,253.76 L333.93,253.76 L335.43,253.75 L336.93,253.75 L338.42,253.75 L339.92,253.74 L341.42,253.74 L342.92,253.74 L344.42,253.73 L345.92,253.73 L347.41,253.73 L348.91,253.72 L350.41,253.72 L351.91,253.71 L353.41,253.71 L354.90,253.71 L356.40,253.70 L357.90,253.70" fill="none" stroke="#000" stroke-opacity="0.62" stroke-width="1.25" stroke-dasharray="6.87 5.94" stroke-dashoffset="-0.2"/>
<path d="M49.15,332.70 L50.60,331.56 L52.05,330.41 L53.50,329.40 L54.65,328.71 L55.80,328.07 L56.95,327.50 L58.10,327.00 L59.60,326.41 L61.10,325.86 L62.60,325.35 L64.10,324.90 L65.60,324.51 L67.10,324.20 L68.49,323.96 L69.88,323.73 L71.28,323.52 L72.67,323.32 L74.06,323.13 L75.45,322.95 L76.85,322.79 L78.24,322.64 L79.63,322.51 L81.02,322.39 L82.42,322.28 L83.81,322.18 L85.20,322.10 L86.61,322.02 L88.03,321.95 L89.44,321.89 L90.86,321.82 L92.27,321.76 L93.69,321.71 L95.10,321.65 L96.51,321.61 L97.93,321.56 L99.34,321.52 L100.76,321.48 L102.17,321.45 L103.59,321.42 L105.00,321.40 L106.48,321.38 L107.97,321.35 L109.45,321.33 L110.94,321.31 L112.42,321.29 L113.91,321.27 L115.39,321.25 L116.88,321.23 L118.36,321.21 L119.84,321.19 L121.33,321.17 L122.81,321.15 L124.30,321.13 L125.78,321.11 L127.27,321.10 L128.75,321.08 L130.23,321.06 L131.72,321.05 L133.20,321.03 L134.69,321.01 L136.17,321.00 L137.66,320.98 L139.14,320.97 L140.62,320.96 L142.11,320.94 L143.59,320.93 L145.08,320.91 L146.56,320.90 L148.05,320.89 L149.53,320.88 L151.02,320.86 L152.50,320.85 L153.98,320.84 L155.47,320.83 L156.95,320.82 L158.44,320.81 L159.92,320.80 L161.41,320.79 L162.89,320.78 L164.38,320.77 L165.86,320.76 L167.34,320.75 L168.83,320.74 L170.31,320.73 L171.80,320.72 L173.28,320.71 L174.77,320.71 L176.25,320.70 L177.73,320.69 L179.22,320.68 L180.70,320.68 L182.19,320.67 L183.67,320.66 L185.16,320.66 L186.64,320.65 L188.12,320.64 L189.61,320.64 L191.09,320.63 L192.58,320.63 L194.06,320.62 L195.55,320.62 L197.03,320.61 L198.52,320.60 L200.00,320.60 L201.49,320.60 L202.98,320.59 L204.47,320.59 L205.96,320.58 L207.45,320.58 L208.94,320.57 L210.43,320.57 L211.92,320.56 L213.41,320.56 L214.90,320.55 L216.39,320.55 L217.88,320.55 L219.37,320.54 L220.85,320.54 L222.34,320.53 L223.83,320.53 L225.32,320.53 L226.81,320.52 L228.30,320.52 L229.79,320.52 L231.28,320.51 L232.77,320.51 L234.26,320.51 L235.75,320.50 L237.24,320.50 L238.73,320.50 L240.22,320.49 L241.71,320.49 L243.20,320.49 L244.69,320.48 L246.18,320.48 L247.67,320.48 L249.16,320.47 L250.65,320.47 L252.14,320.47 L253.63,320.47 L255.12,320.46 L256.61,320.46 L258.10,320.46 L259.58,320.46 L261.07,320.45 L262.56,320.45 L264.05,320.45 L265.54,320.44 L267.03,320.44 L268.52,320.44 L270.01,320.44 L271.50,320.43 L272.99,320.43 L274.48,320.43 L275.97,320.43 L277.46,320.43 L278.95,320.42 L280.44,320.42 L281.93,320.42 L283.42,320.42 L284.91,320.41 L286.40,320.41 L287.89,320.41 L289.38,320.41 L290.87,320.40 L292.36,320.40 L293.85,320.40 L295.34,320.40 L296.83,320.40 L298.32,320.39 L299.80,320.39 L301.29,320.39 L302.78,320.39 L304.27,320.39 L305.76,320.38 L307.25,320.38 L308.74,320.38 L310.23,320.38 L311.72,320.37 L313.21,320.37 L314.70,320.37 L316.19,320.37 L317.68,320.37 L319.17,320.36 L320.66,320.36 L322.15,320.36 L323.64,320.36 L325.13,320.35 L326.62,320.35 L328.11,320.35 L329.60,320.35 L331.09,320.35 L332.58,320.34 L334.07,320.34 L335.56,320.34 L337.05,320.34 L338.53,320.33 L340.02,320.33 L341.51,320.33 L343.00,320.33 L344.49,320.32 L345.98,320.32 L347.47,320.32 L348.96,320.32 L350.45,320.31 L351.94,320.31 L353.43,320.31 L354.92,320.31 L356.41,320.30 L357.90,320.30" fill="none" stroke="#000" stroke-opacity="0.62" stroke-width="1.25" stroke-dasharray="6.86 5.93" stroke-dashoffset="-1.4"/>
<path d="M49.15,203.30 L50.58,202.65 L52.01,202.03 L53.44,201.43 L54.88,200.82 L56.31,200.18 L57.74,199.49 L59.17,198.74 L60.60,197.90 L62.05,196.84 L63.50,195.60 L64.86,194.40 L66.21,193.15 L67.57,191.84 L68.93,190.50 L70.29,189.12 L71.64,187.72 L73.00,186.30 L74.40,184.81 L75.80,183.29 L77.20,181.73 L78.60,180.14 L80.00,178.53 L81.40,176.90 L82.80,175.26 L84.20,173.61 L85.60,171.96 L87.00,170.30 L88.44,168.58 L89.89,166.83 L91.33,165.07 L92.78,163.29 L94.22,161.50 L95.67,159.72 L97.11,157.93 L98.56,156.16 L100.00,154.40 L101.50,152.58 L103.00,150.76 L104.50,148.94 L106.00,147.12 L107.50,145.30 L109.00,143.48 L110.50,141.66 L112.00,139.85 L113.50,138.04 L115.00,136.24 L116.50,134.44 L118.00,132.66 L119.50,130.88 L121.00,129.12 L122.50,127.37 L124.00,125.63 L125.50,123.90 L126.95,122.25 L128.39,120.62 L129.84,119.01 L131.29,117.40 L132.73,115.81 L134.18,114.23 L135.63,112.65 L137.07,111.08 L138.52,109.50 L139.97,107.93 L141.41,106.36 L142.86,104.78 L144.31,103.20 L145.75,101.60 L147.20,100.00 L148.68,98.35 L150.16,96.69 L151.64,95.03 L153.12,93.36 L154.60,91.68 L156.07,90.00 L157.55,88.32 L159.03,86.63 L160.51,84.94 L161.99,83.25 L163.47,81.56 L164.95,79.88 L166.43,78.19 L167.91,76.51 L169.39,74.82 L170.87,73.15 L172.35,71.48 L173.82,69.81 L175.30,68.16 L176.78,66.51 L178.26,64.86 L179.74,63.23 L181.22,61.61 L182.70,60.00 L184.15,58.43 L185.60,56.87 L187.05,55.33 L188.50,53.78 L189.95,52.25 L191.40,50.72 L192.85,49.20 L194.30,47.69 L195.75,46.18 L197.20,44.67 L198.65,43.16 L200.10,41.66 L201.55,40.16 L203.00,38.65 L204.45,37.15 L205.90,35.65 L207.35,34.14 L208.80,32.63 L210.25,31.12 L211.70,29.60" fill="none" stroke="#0000ff" stroke-opacity="0.55" stroke-width="1.5" />
<path d="M49.15,263.40 L50.49,263.11 L51.83,262.85 L53.16,262.53 L54.50,262.10 L55.85,261.27 L57.20,259.97 L58.55,258.47 L59.90,257.00 L61.38,255.49 L62.85,253.95 L64.33,252.39 L65.81,250.80 L67.29,249.18 L68.76,247.54 L70.24,245.88 L71.72,244.21 L73.20,242.51 L74.67,240.81 L76.15,239.09 L77.63,237.36 L79.10,235.63 L80.58,233.89 L82.06,232.14 L83.54,230.40 L85.01,228.65 L86.49,226.91 L87.97,225.17 L89.45,223.44 L90.92,221.71 L92.40,220.00 L93.83,218.35 L95.25,216.69 L96.68,215.02 L98.10,213.35 L99.53,211.67 L100.95,210.00 L102.38,208.32 L103.80,206.65 L105.22,204.97 L106.65,203.31 L108.08,201.65 L109.50,200.00 L110.94,198.34 L112.38,196.67 L113.83,195.01 L115.27,193.35 L116.71,191.69 L118.15,190.04 L119.59,188.39 L121.03,186.75 L122.47,185.12 L123.92,183.50 L125.36,181.90 L126.80,180.30 L128.17,178.80 L129.54,177.33 L130.91,175.87 L132.29,174.41 L133.66,172.96 L135.03,171.49 L136.40,170.00 L137.88,168.38 L139.35,166.75 L140.83,165.10 L142.30,163.44 L143.78,161.78 L145.25,160.11 L146.72,158.44 L148.20,156.76 L149.68,155.09 L151.15,153.41 L152.62,151.74 L154.10,150.07 L155.57,148.41 L157.05,146.77 L158.53,145.13 L160.00,143.50 L161.43,141.94 L162.86,140.38 L164.29,138.82 L165.71,137.28 L167.14,135.73 L168.57,134.20 L170.00,132.66 L171.43,131.13 L172.86,129.60 L174.29,128.08 L175.71,126.56 L177.14,125.04 L178.57,123.52 L180.00,122.00 L181.48,120.43 L182.97,118.85 L184.45,117.29 L185.93,115.72 L187.41,114.15 L188.90,112.59 L190.38,111.03 L191.86,109.47 L193.34,107.92 L194.82,106.36 L196.31,104.81 L197.79,103.26 L199.27,101.71 L200.75,100.16 L202.24,98.61 L203.72,97.06 L205.20,95.52 L206.69,93.97 L208.17,92.43 L209.65,90.89 L211.13,89.34 L212.62,87.80 L214.10,86.26 L215.58,84.72 L217.06,83.17 L218.55,81.63 L220.03,80.09 L221.51,78.55 L222.99,77.01 L224.48,75.47 L225.96,73.92 L227.44,72.38 L228.92,70.84 L230.41,69.29 L231.89,67.74 L233.37,66.20 L234.85,64.65 L236.34,63.10 L237.82,61.55 L239.30,60.00 L240.75,58.48 L242.20,56.96 L243.65,55.44 L245.10,53.92 L246.55,52.40 L248.00,50.89 L249.45,49.37 L250.90,47.85 L252.35,46.32 L253.80,44.80 L255.25,43.28 L256.70,41.76 L258.15,40.24 L259.60,38.72 L261.05,37.20 L262.50,35.68 L263.95,34.16 L265.40,32.64 L266.85,31.12 L268.30,29.60" fill="none" stroke="#0000ff" stroke-opacity="0.55" stroke-width="1.5" />
<path d="M49.65,307.50 L51.12,306.27 L52.60,305.08 L54.08,303.88 L55.55,302.65 L57.02,301.37 L58.50,300.00 L59.98,298.53 L61.46,296.99 L62.95,295.37 L64.43,293.70 L65.91,291.97 L67.39,290.20 L68.88,288.40 L70.36,286.56 L71.84,284.70 L73.32,282.83 L74.81,280.95 L76.29,279.08 L77.77,277.21 L79.25,275.36 L80.74,273.54 L82.22,271.75 L83.70,270.00 L85.19,268.26 L86.69,266.52 L88.18,264.78 L89.67,263.04 L91.17,261.30 L92.66,259.56 L94.15,257.83 L95.65,256.09 L97.14,254.36 L98.64,252.63 L100.13,250.90 L101.62,249.18 L103.12,247.46 L104.61,245.74 L106.10,244.03 L107.60,242.32 L109.09,240.61 L110.58,238.91 L112.08,237.22 L113.57,235.53 L115.06,233.85 L116.56,232.17 L118.05,230.50 L119.55,228.84 L121.04,227.18 L122.53,225.53 L124.03,223.89 L125.52,222.25 L127.01,220.63 L128.51,219.01 L130.00,217.40 L131.48,215.82 L132.96,214.25 L134.45,212.69 L135.93,211.15 L137.41,209.62 L138.89,208.10 L140.37,206.59 L141.85,205.08 L143.34,203.58 L144.82,202.09 L146.30,200.60 L147.78,199.11 L149.26,197.62 L150.75,196.13 L152.23,194.63 L153.71,193.14 L155.19,191.63 L156.67,190.13 L158.15,188.61 L159.64,187.08 L161.12,185.55 L162.60,184.00 L164.09,182.43 L165.59,180.85 L167.08,179.26 L168.57,177.67 L170.07,176.06 L171.56,174.46 L173.05,172.85 L174.55,171.24 L176.04,169.63 L177.53,168.02 L179.03,166.41 L180.52,164.80 L182.01,163.19 L183.51,161.59 L185.00,160.00 L186.48,158.43 L187.95,156.86 L189.43,155.29 L190.91,153.73 L192.39,152.16 L193.86,150.60 L195.34,149.04 L196.82,147.49 L198.30,145.93 L199.77,144.38 L201.25,142.82 L202.73,141.27 L204.20,139.72 L205.68,138.17 L207.16,136.62 L208.64,135.07 L210.11,133.52 L211.59,131.97 L213.07,130.43 L214.55,128.88 L216.02,127.33 L217.50,125.78 L218.98,124.23 L220.45,122.68 L221.93,121.13 L223.41,119.58 L224.89,118.02 L226.36,116.47 L227.84,114.91 L229.32,113.36 L230.80,111.80 L232.27,110.24 L233.75,108.67 L235.23,107.11 L236.70,105.54 L238.18,103.97 L239.66,102.40 L241.14,100.82 L242.61,99.24 L244.09,97.66 L245.57,96.08 L247.05,94.49 L248.52,92.90 L250.00,91.30 L251.47,89.71 L252.94,88.12 L254.41,86.52 L255.87,84.92 L257.34,83.32 L258.81,81.71 L260.28,80.10 L261.75,78.49 L263.22,76.87 L264.68,75.26 L266.15,73.64 L267.62,72.02 L269.09,70.39 L270.56,68.77 L272.03,67.14 L273.49,65.51 L274.96,63.88 L276.43,62.25 L277.90,60.62 L279.37,58.99 L280.84,57.35 L282.31,55.72 L283.77,54.08 L285.24,52.45 L286.71,50.81 L288.18,49.18 L289.65,47.54 L291.12,45.91 L292.58,44.27 L294.05,42.64 L295.52,41.00 L296.99,39.37 L298.46,37.74 L299.93,36.11 L301.39,34.48 L302.86,32.85 L304.33,31.22 L305.80,29.60" fill="none" stroke="#0000ff" stroke-opacity="0.55" stroke-width="1.5" />
<path d="M49.15,190.70 L50.52,189.27 L51.89,187.85 L53.26,186.42 L54.63,184.97 L56.00,183.50 L57.50,181.86 L59.00,180.21 L60.50,178.52 L62.00,176.79 L63.50,175.00 L64.88,173.29 L66.26,171.52 L67.65,169.71 L69.03,167.86 L70.41,165.98 L71.79,164.09 L73.17,162.18 L74.55,160.27 L75.94,158.36 L77.32,156.47 L78.70,154.60 L80.17,152.62 L81.64,150.64 L83.12,148.66 L84.59,146.68 L86.06,144.70 L87.53,142.72 L89.01,140.74 L90.48,138.75 L91.95,136.77 L93.42,134.79 L94.89,132.81 L96.37,130.83 L97.84,128.85 L99.31,126.88 L100.78,124.91 L102.26,122.93 L103.73,120.97 L105.20,119.00 L106.59,117.14 L107.98,115.27 L109.38,113.39 L110.77,111.51 L112.16,109.63 L113.55,107.76 L114.95,105.89 L116.34,104.04 L117.73,102.19 L119.12,100.36 L120.52,98.55 L121.91,96.76 L123.30,95.00 L124.79,93.13 L126.28,91.28 L127.78,89.43 L129.27,87.60 L130.76,85.78 L132.25,83.97 L133.74,82.17 L135.24,80.38 L136.73,78.60 L138.22,76.83 L139.71,75.07 L141.20,73.31 L142.70,71.56 L144.19,69.82 L145.68,68.09 L147.17,66.36 L148.66,64.64 L150.16,62.92 L151.65,61.21 L153.14,59.50 L154.63,57.79 L156.12,56.09 L157.62,54.39 L159.11,52.70 L160.60,51.00 L162.09,49.31 L163.58,47.64 L165.08,45.97 L166.57,44.32 L168.06,42.68 L169.55,41.04 L171.05,39.40 L172.54,37.77 L174.03,36.14 L175.52,34.51 L177.02,32.88 L178.51,31.24 L180.00,29.60" fill="none" stroke="#0000ff" stroke-opacity="0.55" stroke-width="1.5" stroke-dasharray="6.75 5.83" stroke-dashoffset="2.4"/>
<path d="M62.20,238.30 L63.65,236.45 L65.09,234.60 L66.54,232.76 L67.98,230.91 L69.43,229.07 L70.87,227.22 L72.32,225.37 L73.76,223.52 L75.21,221.65 L76.65,219.78 L78.10,217.90 L79.58,215.95 L81.06,213.98 L82.55,212.00 L84.03,210.01 L85.51,208.01 L86.99,206.01 L88.47,204.02 L89.95,202.04 L91.44,200.07 L92.92,198.12 L94.40,196.20 L95.85,194.34 L97.31,192.50 L98.76,190.67 L100.22,188.86 L101.67,187.05 L103.12,185.26 L104.58,183.47 L106.03,181.68 L107.48,179.89 L108.94,178.11 L110.39,176.31 L111.85,174.51 L113.30,172.70 L114.71,170.93 L116.11,169.16 L117.52,167.37 L118.93,165.57 L120.33,163.77 L121.74,161.97 L123.15,160.17 L124.55,158.37 L125.96,156.59 L127.37,154.81 L128.77,153.05 L130.18,151.30 L131.59,149.58 L132.99,147.88 L134.40,146.20 L135.87,144.48 L137.33,142.77 L138.80,141.09 L140.27,139.41 L141.73,137.76 L143.20,136.12 L144.67,134.49 L146.13,132.87 L147.60,131.27 L149.07,129.67 L150.53,128.08 L152.00,126.50 L153.47,124.93 L154.94,123.37 L156.41,121.83 L157.89,120.30 L159.36,118.78 L160.83,117.28 L162.30,115.77 L163.77,114.27 L165.24,112.77 L166.71,111.27 L168.19,109.77 L169.66,108.25 L171.13,106.73 L172.60,105.20 L174.07,103.66 L175.54,102.11 L177.01,100.56 L178.48,99.00 L179.94,97.44 L181.41,95.87 L182.88,94.30 L184.35,92.72 L185.82,91.14 L187.29,89.56 L188.76,87.98 L190.23,86.40 L191.70,84.82 L193.17,83.24 L194.63,81.66 L196.10,80.08 L197.57,78.50 L199.04,76.93 L200.51,75.36 L201.98,73.79 L203.45,72.23 L204.92,70.68 L206.39,69.13 L207.86,67.59 L209.32,66.05 L210.79,64.53 L212.26,63.01 L213.73,61.50 L215.20,60.00 L216.68,58.50 L218.15,57.02 L219.63,55.54 L221.10,54.07 L222.58,52.61 L224.06,51.15 L225.53,49.70 L227.01,48.25 L228.49,46.81 L229.96,45.38 L231.44,43.94 L232.91,42.51 L234.39,41.08 L235.87,39.65 L237.34,38.22 L238.82,36.79 L240.30,35.36 L241.77,33.92 L243.25,32.49 L244.72,31.05 L246.20,29.60" fill="none" stroke="#0000ff" stroke-opacity="0.55" stroke-width="1.5" stroke-dasharray="6.75 5.83" stroke-dashoffset="-1.0"/>
<rect x="42.85" y="23.50" width="321.60" height="320.95" fill="none" stroke="#8c8c8c" stroke-width="1"/>
<path d="M42.70,344.45v-4.60 M42.70,23.50v4.60 M58.45,344.45v-2.70 M58.45,23.50v2.70 M74.20,344.45v-2.70 M74.20,23.50v2.70 M89.95,344.45v-2.70 M89.95,23.50v2.70 M105.70,344.45v-4.60 M105.70,23.50v4.60 M121.45,344.45v-2.70 M121.45,23.50v2.70 M137.20,344.45v-2.70 M137.20,23.50v2.70 M152.95,344.45v-2.70 M152.95,23.50v2.70 M168.70,344.45v-4.60 M168.70,23.50v4.60 M184.45,344.45v-2.70 M184.45,23.50v2.70 M200.20,344.45v-2.70 M200.20,23.50v2.70 M215.95,344.45v-2.70 M215.95,23.50v2.70 M231.70,344.45v-4.60 M231.70,23.50v4.60 M247.45,344.45v-2.70 M247.45,23.50v2.70 M263.20,344.45v-2.70 M263.20,23.50v2.70 M278.95,344.45v-2.70 M278.95,23.50v2.70 M294.70,344.45v-4.60 M294.70,23.50v4.60 M310.45,344.45v-2.70 M310.45,23.50v2.70 M326.20,344.45v-2.70 M326.20,23.50v2.70 M341.95,344.45v-2.70 M341.95,23.50v2.70 M357.70,344.45v-4.60 M357.70,23.50v4.60 M42.85,336.51h2.70 M364.45,336.51h-2.70 M42.85,323.72h2.70 M364.45,323.72h-2.70 M42.85,310.94h2.70 M364.45,310.94h-2.70 M42.85,298.15h2.70 M364.45,298.15h-2.70 M42.85,285.36h4.60 M364.45,285.36h-4.60 M42.85,272.57h2.70 M364.45,272.57h-2.70 M42.85,259.78h2.70 M364.45,259.78h-2.70 M42.85,247.00h2.70 M364.45,247.00h-2.70 M42.85,234.21h2.70 M364.45,234.21h-2.70 M42.85,221.42h4.60 M364.45,221.42h-4.60 M42.85,208.63h2.70 M364.45,208.63h-2.70 M42.85,195.84h2.70 M364.45,195.84h-2.70 M42.85,183.06h2.70 M364.45,183.06h-2.70 M42.85,170.27h2.70 M364.45,170.27h-2.70 M42.85,157.48h4.60 M364.45,157.48h-4.60 M42.85,144.69h2.70 M364.45,144.69h-2.70 M42.85,131.90h2.70 M364.45,131.90h-2.70 M42.85,119.12h2.70 M364.45,119.12h-2.70 M42.85,106.33h2.70 M364.45,106.33h-2.70 M42.85,93.54h4.60 M364.45,93.54h-4.60 M42.85,80.75h2.70 M364.45,80.75h-2.70 M42.85,67.96h2.70 M364.45,67.96h-2.70 M42.85,55.18h2.70 M364.45,55.18h-2.70 M42.85,42.39h2.70 M364.45,42.39h-2.70 M42.85,29.60h4.60 M364.45,29.60h-4.60" fill="none" stroke="#8c8c8c" stroke-width="1"/>
<text x="42.70" y="359.1" text-anchor="middle" font-size="10.75" fill="#666666">0</text>
<text x="105.70" y="359.1" text-anchor="middle" font-size="10.75" fill="#666666">20</text>
<text x="168.70" y="359.1" text-anchor="middle" font-size="10.75" fill="#666666">40</text>
<text x="231.70" y="359.1" text-anchor="middle" font-size="10.75" fill="#666666">60</text>
<text x="294.70" y="359.1" text-anchor="middle" font-size="10.75" fill="#666666">80</text>
<text x="357.70" y="359.1" text-anchor="middle" font-size="10.75" fill="#666666">100</text>
<text x="39.5" y="288.96" text-anchor="end" font-size="10.75" fill="#666666">200</text>
<text x="39.5" y="225.02" text-anchor="end" font-size="10.75" fill="#666666">300</text>
<text x="39.5" y="161.08" text-anchor="end" font-size="10.75" fill="#666666">400</text>
<text x="39.5" y="97.14" text-anchor="end" font-size="10.75" fill="#666666">500</text>
<text x="39.5" y="33.20" text-anchor="end" font-size="10.75" fill="#666666">600</text>
<text x="174.90" y="37.80" text-anchor="middle" font-size="10.5" fill="#000">0.02</text>
<text x="205.50" y="39.90" text-anchor="middle" font-size="10.5" fill="#000">0.2</text>
<text x="235.80" y="66.20" text-anchor="middle" font-size="10.5" fill="#000">0.1</text>
<text x="53.70" y="252.00" text-anchor="middle" font-size="10.5" fill="#000">0.01</text>
<text x="50.40" y="310.10" text-anchor="middle" font-size="10.5" fill="#000">0.05</text>
<text x="356.90" y="83.20" text-anchor="middle" font-size="10.5" fill="#000">0.2</text>
<text x="352.30" y="102.70" text-anchor="middle" font-size="10.5" fill="#000">3</text>
<text x="356.90" y="184.60" text-anchor="middle" font-size="10.5" fill="#000">0.1</text>
<text x="351.20" y="241.20" text-anchor="middle" font-size="10.5" fill="#000">1</text>
<text x="355.20" y="257.40" text-anchor="middle" font-size="10.5" fill="#000">0.05</text>
<text x="356.20" y="298.10" text-anchor="middle" font-size="10.5" fill="#000">0.5</text>
<text x="346.90" y="323.60" text-anchor="middle" font-size="10.5" fill="#000">0.02</text>
<text x="335.30" y="331.10" text-anchor="middle" font-size="10.5" fill="#000">0.3</text>
<text font-size="10.75" fill="#666666" y="12.7"><tspan x="143.40">Δ</tspan><tspan x="175.20">×</tspan><tspan x="181.60">10</tspan><tspan x="192.00" dy="-5.7" font-size="9.5">4</tspan></text><text font-size="9" fill="#666666" y="15.4"><tspan x="150.50">1</tspan><tspan x="155.40">,</tspan><tspan x="159.20" font-style="italic">R</tspan><tspan x="165.30">,</tspan><tspan x="169.40" font-style="italic">L</tspan></text><text font-size="10.75" fill="#666666" x="199.8" y="12.7">,</text><text font-size="10.75" fill="#666666" y="12.7"><tspan x="206.90">Δ</tspan><tspan x="239.60">×</tspan><tspan x="246.00">10</tspan><tspan x="256.40" dy="-5.7" font-size="9.5">4</tspan></text><text font-size="9" fill="#666666" y="15.4"><tspan x="214.00">2</tspan><tspan x="219.17">,</tspan><tspan x="223.15" font-style="italic">R</tspan><tspan x="229.43">,</tspan><tspan x="233.80" font-style="italic">L</tspan></text>
<text x="178.0" y="379.8" font-size="10.75" fill="#666666" font-style="italic">m</text>
<text x="186.9" y="386.2" font-size="9.3" fill="#666666" font-style="italic">H</text>
<text x="194.0" y="382.2" font-size="8.5" fill="#666666">±</text>
<text x="193.9" y="389.3" font-size="8" fill="#666666">1</text>
<text x="204.5" y="379.8" font-size="10.75" fill="#666666">[TeV]</text>
<text transform="translate(10.2,200.6) rotate(-90)" font-size="10.75" fill="#666666"><tspan font-style="italic" font-size="11.3" letter-spacing="0.6">ρ</tspan>[GeV]</text>
<text transform="translate(381.5,226.5) rotate(-90)" font-size="10.75" fill="#666666"><tspan x="-0.5" font-style="italic">M</tspan><tspan x="8.3" dy="2.6" font-size="9.5" font-style="italic">R</tspan><tspan x="14.4" dy="-2.6">=</tspan><tspan x="20.5">9</tspan><tspan x="27.6" font-style="italic" font-size="11.5">ρ</tspan><tspan x="34.5">diag(</tspan><tspan x="58.3">1,</tspan><tspan x="66.6">2,</tspan><tspan x="76.1">3</tspan><tspan x="82.8">)</tspan></text>
</svg>
</body></html>
